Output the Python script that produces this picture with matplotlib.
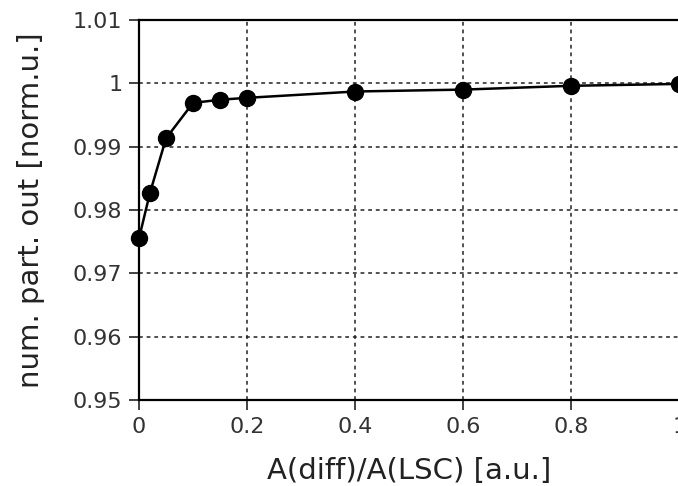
import matplotlib
matplotlib.use("Agg")
import matplotlib.pyplot as plt

# A(diff)/A(LSC) ratio vs normalised particle count
ratio = [0.0, 0.02, 0.05, 0.1, 0.15, 0.2, 0.4, 0.6, 0.8, 1.0]
part_out = [0.9755, 0.9826, 0.9913, 0.9969, 0.9974, 0.9977, 0.9987, 0.9990, 0.9996, 0.9999]

xticks = [0, 0.2, 0.4, 0.6, 0.8, 1]
xticklabels = ["0", "0.2", "0.4", "0.6", "0.8", "1"]
yticks = [0.95, 0.96, 0.97, 0.98, 0.99, 1.0, 1.01]
yticklabels = ["0.95", "0.96", "0.97", "0.98", "0.99", "1", "1.01"]

fig = plt.figure(figsize=(6.78, 4.86), dpi=100)
ax = fig.add_axes([0.205, 0.177, 0.797, 0.782])

ax.plot(ratio, part_out, "k-", marker="o", markersize=11.5, linewidth=1.8, zorder=3, clip_on=False)

ax.set_xlim(0, 1)
ax.set_ylim(0.95, 1.01)
ax.set_xticks(xticks)
ax.set_xticklabels(xticklabels)
ax.set_yticks(yticks)
ax.set_yticklabels(yticklabels)
ax.tick_params(labelsize=16, direction="out", length=7, width=1.2, pad=5,
               colors="#222222", labelcolor="#333333")
ax.grid(True, color="#222222", linestyle="--", linewidth=1.1, dashes=(2.5, 2.5))
ax.set_axisbelow(True)
for s in ax.spines.values():
    s.set_linewidth(1.6)

ax.set_xlabel("A(diff)/A(LSC) [a.u.]", fontsize=21, color="#222222", labelpad=15)
ax.set_ylabel("num. part. out [norm.u.]", fontsize=21, color="#222222", labelpad=20)

fig.savefig("out.png", dpi=100)
